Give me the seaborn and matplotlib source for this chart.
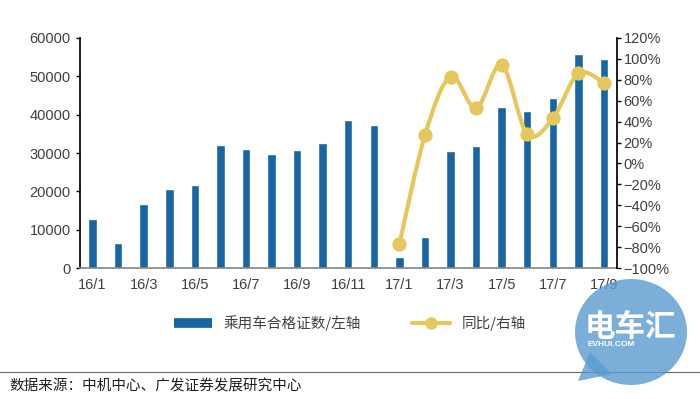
import matplotlib
matplotlib.use("Agg")
import matplotlib.pyplot as plt
import seaborn as sns
import pandas as pd
import numpy as np
from matplotlib.path import Path
from matplotlib.patches import PathPatch, Ellipse, Polygon
from matplotlib.lines import Line2D
from matplotlib.ticker import FixedLocator, PercentFormatter

# monthly data
months = ["16/1", "16/2", "16/3", "16/4", "16/5", "16/6", "16/7", "16/8", "16/9",
          "16/10", "16/11", "16/12", "17/1", "17/2", "17/3", "17/4", "17/5",
          "17/6", "17/7", "17/8", "17/9"]
certs = [12900, 6500, 16800, 20700, 21700, 32100, 31000, 29800, 30700,
         32600, 38600, 37300, 3000, 8200, 30400, 31700, 41900,
         41000, 44400, 55700, 54500]
yoy_months = ["17/1", "17/2", "17/3", "17/4", "17/5", "17/6", "17/7", "17/8", "17/9"]
yoy = [-77, 27, 83, 53, 94, 28, 43, 86, 77]

bar_col = "#1766A3"
line_col = "#E5C75E"
txt_col = "#404040"
cjk = ["Noto Sans CJK SC", "DejaVu Sans"]

sns.set_theme(style="white")
plt.rcParams["font.family"] = ["Liberation Sans", "Noto Sans CJK SC", "DejaVu Sans"]

df = pd.DataFrame({"month": months, "count": certs})

fig = plt.figure(figsize=(7, 3.99), dpi=100)
ax = fig.add_axes([0.114, 0.328, 0.767, 0.577])
sns.barplot(data=df, x="month", y="count", order=months, color=bar_col,
            width=0.33, saturation=1, ax=ax)
ax.set_xlim(-0.5, len(months) - 0.5)
ax.set_ylim(0, 60000)
ax.set_yticks(range(0, 60001, 10000))
ax.set_xlabel("")
ax.set_ylabel("")

# labels on every other month, tick marks at the boundaries
ax.set_xticks(range(0, len(months), 2))
ax.set_xticklabels(months[::2])
ax.xaxis.set_minor_locator(FixedLocator(np.arange(-0.5, len(months) - 1, 2)))
ax.tick_params(axis="x", which="major", length=0, pad=7, labelsize=10.5, labelcolor=txt_col)
ax.tick_params(axis="x", which="minor", length=4, width=1, color="#808080", direction="out")
ax.tick_params(axis="y", length=3, width=1, color="black", direction="out", labelsize=10.5,
               labelcolor=txt_col, left=True)

for s in ["top", "right"]:
    ax.spines[s].set_visible(False)
ax.spines["left"].set_color("black")
ax.spines["bottom"].set_color("#888888")

# right axis: year-on-year, smooth line like the source
ax2 = ax.twinx()
xpos = np.array([months.index(m) for m in yoy_months], dtype=float)
yv = np.array(yoy, dtype=float)
pts = np.column_stack([xpos, yv])
verts = [pts[0]]
codes = [Path.MOVETO]
n = len(pts)
for i in range(n - 1):
    p0 = pts[max(i - 1, 0)]
    p1 = pts[i]
    p2 = pts[i + 1]
    p3 = pts[min(i + 2, n - 1)]
    c1 = p1 + (p2 - p0) / 6
    c2 = p2 - (p3 - p1) / 6
    verts += [c1, c2, p2]
    codes += [Path.CURVE4] * 3
ax2.add_patch(PathPatch(Path(verts, codes), fill=False, edgecolor=line_col, lw=3, zorder=3))
sns.scatterplot(x=xpos, y=yv, color=line_col, s=90, edgecolor=line_col, zorder=4,
                ax=ax2, legend=False)
ax2.set_ylim(-100, 120)
ax2.set_yticks(range(-100, 121, 20))
ax2.yaxis.set_major_formatter(PercentFormatter(decimals=0))
ax2.tick_params(axis="y", length=3, width=1, color="black", direction="out", labelsize=10.5,
                labelcolor=txt_col, right=True, pad=2)
for s in ["top", "left", "bottom"]:
    ax2.spines[s].set_visible(False)
ax2.spines["right"].set_color("black")
ax2.grid(False)
ax.grid(False)

# legend below the plot
handles = [Line2D([], [], color=bar_col, lw=7, solid_capstyle="butt"),
           Line2D([], [], color=line_col, lw=3, marker="o", markersize=8)]
fig.legend(handles, ["乘用车合格证数/左轴", "同比/右轴"], loc="center",
           bbox_to_anchor=(0.5, 0.19), ncol=2, frameon=False, handlelength=2.6,
           columnspacing=3.5, prop={"family": cjk, "size": 10.5},
           labelcolor=txt_col)

# source line
fig.add_artist(Line2D([0, 1], [1 - 372 / 399, 1 - 372 / 399], transform=fig.transFigure,
                      color="#666666", lw=0.8))
fig.text(0.014, 1 - 386 / 399, "数据来源：中机中心、广发证券发展研究中心", fontsize=10.5,
         color="#202020", ha="left", va="center", family=cjk)

# watermark bubble, drawn semi-transparent on top
bubble = "#5A9BD0"
W, H = 700, 399
fig.add_artist(Ellipse((631 / W, 1 - 332 / H), 112 / W, 106 / H, transform=fig.transFigure,
                       facecolor=bubble, edgecolor="none", alpha=0.8, zorder=10))
fig.add_artist(Polygon([[590 / W, 1 - 352 / H], [578 / W, 1 - 381 / H], [612 / W, 1 - 374 / H]],
                       closed=True, transform=fig.transFigure,
                       facecolor=bubble, edgecolor="none", alpha=0.8, zorder=10))
t1 = fig.text(630 / W, 1 - 327 / H, "电车汇", color="white", fontsize=22, fontweight="bold",
              ha="center", va="center", family=cjk)
t2 = fig.text(611 / W, 1 - 345 / H, "EVHUI.COM", color="white", fontsize=6, fontweight="bold",
              ha="center", va="center")
t1.set_zorder(11)
t2.set_zorder(11)

fig.savefig("out.png", dpi=100)
